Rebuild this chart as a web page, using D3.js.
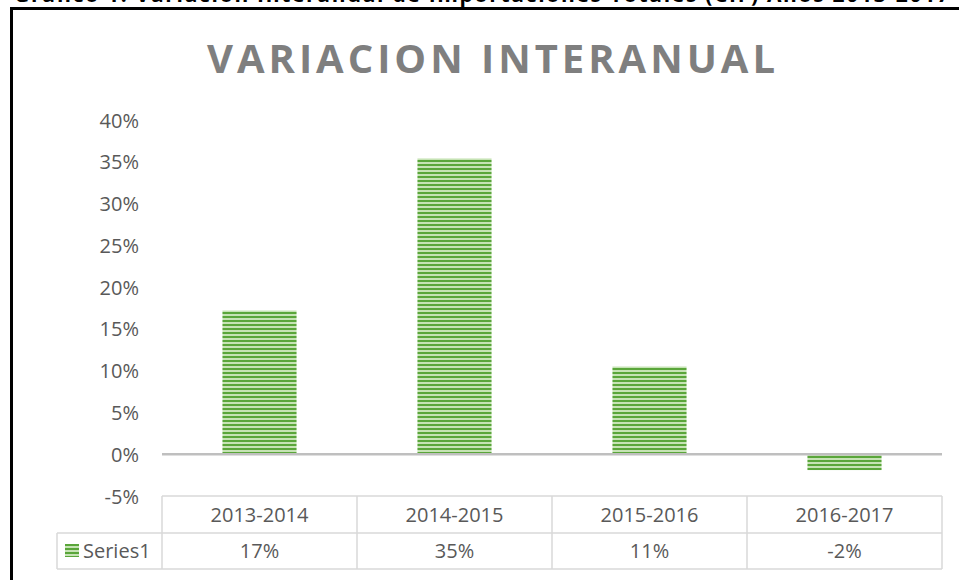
<!DOCTYPE html>
<html><head><meta charset="utf-8">
<script src="https://cdn.jsdelivr.net/npm/d3@7"></script>
<style>body{margin:0;background:#fff;} svg{display:block;font-family:"Open Sans","DejaVu Sans",sans-serif;}</style>
</head><body>
<svg id="c" width="959" height="580"></svg>
<script>
const categories = ["2013-2014","2014-2015","2015-2016","2016-2017"];
const values = [17.2, 35.4, 10.5, -1.9];
const tableLabels = ["17%","35%","11%","-2%"];
const yTicks = [-5,0,5,10,15,20,25,30,35,40];
const seriesName = "Series1";
const chartTitle = "VARIACION INTERANUAL";
const docTitle = "Gráfico 1: Variación Interanual de Importaciones Totales (CIF) Años 2013-2017";

const svg = d3.select("#c");
const defs = svg.append("defs");
const pat = defs.append("pattern").attr("id","stripes").attr("patternUnits","userSpaceOnUse")
  .attr("width",8).attr("height",4);
pat.append("rect").attr("width",8).attr("height",4).attr("fill","#c6e3b5");
pat.append("rect").attr("y",0).attr("width",8).attr("height",2).attr("fill","#5aa63a");

// document caption, mostly cut off at top (as in the reference)
svg.append("text").attr("x",14).attr("y",2).attr("text-anchor","start")
  .attr("font-weight","bold").attr("font-size",21).attr("fill","#000")
  .attr("textLength",935).attr("lengthAdjust","spacing").text(docTitle);

// frame
svg.append("rect").attr("x",11.5).attr("y",8.5).attr("width",960).attr("height",600)
  .attr("fill","none").attr("stroke","#000").attr("stroke-width",3);

svg.append("text").attr("x",491).attr("y",73).attr("text-anchor","middle")
  .attr("font-weight","bold").attr("font-size",40).attr("fill","#7f7f7f")
  .attr("textLength",568).attr("lengthAdjust","spacing").text(chartTitle);

const left = 162, right = 942;
const fs = 20;
const y = d3.scaleLinear().domain([-5,40]).range([496,120]);
const x = d3.scaleBand().domain(categories).range([left,right]).padding(0);
const barW = x.bandwidth()*0.38;

// y axis labels
const yAxis = d3.axisLeft(y).tickValues(yTicks).tickFormat(d=>d+"%").tickSize(0).tickPadding(0);
const ga = svg.append("g").attr("transform",`translate(139,0)`).call(yAxis);
ga.select(".domain").remove();
ga.selectAll("text").attr("font-size",fs).attr("fill","#595959")
  .attr("font-family","'Open Sans',sans-serif").attr("dy","0.35em");

// bars
svg.append("g").selectAll("rect").data(values).join("rect")
  .attr("x",(d,i)=>x(categories[i])+x.bandwidth()/2-barW/2)
  .attr("width",barW)
  .attr("y",d=>y(Math.max(0,d)))
  .attr("height",d=>Math.abs(y(d)-y(0)))
  .attr("fill","url(#stripes)");

// zero line
svg.append("line").attr("x1",left).attr("x2",right).attr("y1",y(0)).attr("y2",y(0))
  .attr("stroke","#bfbfbf").attr("stroke-width",2.5);

// data table
const tg = svg.append("g");
const r0 = 496, r1 = 533, r2 = 569, legL = 57;
const gridC = "#d9d9d9";
const hl = (x1,x2,yy)=>tg.append("line").attr("x1",x1).attr("x2",x2).attr("y1",yy).attr("y2",yy).attr("stroke",gridC).attr("stroke-width",1.5);
const vl = (xx,y1,y2)=>tg.append("line").attr("x1",xx).attr("x2",xx).attr("y1",y1).attr("y2",y2).attr("stroke",gridC).attr("stroke-width",1.5);
hl(left,right,r0); hl(legL,right,r1); hl(legL,right,r2);
vl(legL,r1,r2);
categories.forEach(c=>vl(x(c),r0,r2));
vl(right,r0,r2);
tg.selectAll("text.cat").data(categories).join("text").attr("class","cat")
  .attr("x",d=>x(d)+x.bandwidth()/2).attr("y",(r0+r1)/2).attr("dy","0.35em")
  .attr("text-anchor","middle").attr("font-size",fs).attr("fill","#595959").text(d=>d);
tg.selectAll("text.val").data(tableLabels).join("text").attr("class","val")
  .attr("x",(d,i)=>x(categories[i])+x.bandwidth()/2).attr("y",(r1+r2)/2).attr("dy","0.35em")
  .attr("text-anchor","middle").attr("font-size",fs).attr("fill","#595959").text(d=>d);
tg.append("rect").attr("x",65).attr("y",544).attr("width",14).attr("height",13).attr("fill","url(#stripes)");
tg.append("text").attr("x",83).attr("y",(r1+r2)/2).attr("dy","0.35em")
  .attr("font-size",fs).attr("fill","#595959").text(seriesName);
</script>
</body></html>
